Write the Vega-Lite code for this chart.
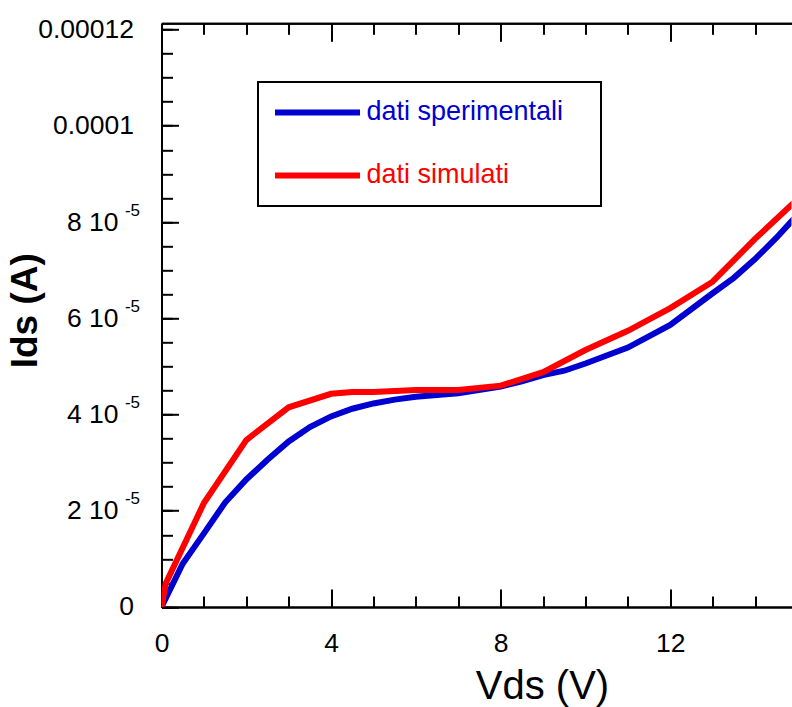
{
  "$schema": "https://vega.github.io/schema/vega-lite/v6.json",
  "autosize": {"type": "none"},
  "padding": {"left": 161.5, "top": 23.3, "right": 0.5, "bottom": 99.7},
  "width": 630,
  "height": 583.7,
  "data": {"values": [
    {"V": 0, "I": 0, "serie": "dati sperimentali"},
    {"V": 0.5, "I": 9.0e-6, "serie": "dati sperimentali"},
    {"V": 1, "I": 15.3e-6, "serie": "dati sperimentali"},
    {"V": 1.5, "I": 21.7e-6, "serie": "dati sperimentali"},
    {"V": 2, "I": 26.5e-6, "serie": "dati sperimentali"},
    {"V": 2.5, "I": 30.6e-6, "serie": "dati sperimentali"},
    {"V": 3, "I": 34.4e-6, "serie": "dati sperimentali"},
    {"V": 3.5, "I": 37.4e-6, "serie": "dati sperimentali"},
    {"V": 4, "I": 39.6e-6, "serie": "dati sperimentali"},
    {"V": 4.5, "I": 41.2e-6, "serie": "dati sperimentali"},
    {"V": 5, "I": 42.3e-6, "serie": "dati sperimentali"},
    {"V": 5.5, "I": 43.1e-6, "serie": "dati sperimentali"},
    {"V": 6, "I": 43.7e-6, "serie": "dati sperimentali"},
    {"V": 7, "I": 44.4e-6, "serie": "dati sperimentali"},
    {"V": 8, "I": 45.8e-6, "serie": "dati sperimentali"},
    {"V": 8.5, "I": 46.9e-6, "serie": "dati sperimentali"},
    {"V": 9, "I": 48.2e-6, "serie": "dati sperimentali"},
    {"V": 9.5, "I": 49.1e-6, "serie": "dati sperimentali"},
    {"V": 10, "I": 50.6e-6, "serie": "dati sperimentali"},
    {"V": 11, "I": 53.9e-6, "serie": "dati sperimentali"},
    {"V": 12, "I": 58.6e-6, "serie": "dati sperimentali"},
    {"V": 13, "I": 65.2e-6, "serie": "dati sperimentali"},
    {"V": 13.5, "I": 68.4e-6, "serie": "dati sperimentali"},
    {"V": 14, "I": 72.3e-6, "serie": "dati sperimentali"},
    {"V": 14.5, "I": 76.7e-6, "serie": "dati sperimentali"},
    {"V": 15, "I": 81.5e-6, "serie": "dati sperimentali"},
    {"V": 0, "I": 0, "serie": "dati simulati"},
    {"V": 0.1, "I": 4.9e-6, "serie": "dati simulati"},
    {"V": 1, "I": 21.6e-6, "serie": "dati simulati"},
    {"V": 2, "I": 34.7e-6, "serie": "dati simulati"},
    {"V": 3, "I": 41.5e-6, "serie": "dati simulati"},
    {"V": 4, "I": 44.3e-6, "serie": "dati simulati"},
    {"V": 4.5, "I": 44.7e-6, "serie": "dati simulati"},
    {"V": 5, "I": 44.7e-6, "serie": "dati simulati"},
    {"V": 6, "I": 45.1e-6, "serie": "dati simulati"},
    {"V": 7, "I": 45.1e-6, "serie": "dati simulati"},
    {"V": 8, "I": 46.0e-6, "serie": "dati simulati"},
    {"V": 9, "I": 48.8e-6, "serie": "dati simulati"},
    {"V": 10, "I": 53.4e-6, "serie": "dati simulati"},
    {"V": 11, "I": 57.4e-6, "serie": "dati simulati"},
    {"V": 12, "I": 62.1e-6, "serie": "dati simulati"},
    {"V": 13, "I": 67.6e-6, "serie": "dati simulati"},
    {"V": 14, "I": 76.5e-6, "serie": "dati simulati"},
    {"V": 15, "I": 84.7e-6, "serie": "dati simulati"}
  ]},
  "resolve": {"axis": {"x": "independent", "y": "independent"}},
  "layer": [
    {
      "mark": {"type": "line", "strokeWidth": 6, "clip": true},
      "encoding": {
        "x": {"field": "V", "type": "quantitative",
          "scale": {"domain": [0, 14.86], "nice": false, "zero": false},
          "axis": {"orient": "bottom", "values": [0, 4, 8, 12], "tickSize": -18, "labelPadding": 42, "labelFontSize": 26.5, "labelBaseline": "top", "labelFlush": false,
            "title": "Vds (V)", "titleFontSize": 40, "titleFontWeight": "normal", "titleX": 380.5, "titleY": 92, "titleAlign": "center", "titleBaseline": "alphabetic"}},
        "y": {"field": "I", "type": "quantitative",
          "scale": {"domain": [0, 0.0001213], "nice": false},
          "axis": {"orient": "left", "values": [0, 0.00002, 0.00004, 0.00006, 0.00008, 0.0001, 0.00012], "tickSize": -17, "labelPadding": 45, "labelFontSize": 26.5, "labelFlush": false,
            "labelExpr": "datum.value === 0 ? '0' : datum.value > 0.00011 ? '0.00012' : datum.value > 0.00009 ? '0.0001' : ''",
            "title": "Ids (A)", "titleFontSize": 37, "titleFontWeight": "bold", "titleAngle": -90, "titleX": -125, "titleY": 287, "titleAlign": "center", "titleBaseline": "alphabetic"}},
        "color": {"field": "serie", "type": "nominal",
          "scale": {"domain": ["dati sperimentali", "dati simulati"], "range": ["#0000d0", "#ff0000"]},
          "legend": {"orient": "none", "legendX": 96.5, "legendY": 58.7, "title": null, "padding": 17,
            "symbolType": "M-5,0H5", "symbolSize": 289, "symbolStrokeWidth": 6, "symbolOffset": 29, "labelFontSize": 27, "labelOffset": 35.5, "labelLimit": 500, "rowPadding": 35,
            "strokeColor": "black",
            "encode": {
              "legend": {"update": {"strokeWidth": {"value": 2}}},
              "labels": {"update": {"fill": {"signal": "datum.value === 'dati simulati' ? '#ff0000' : '#0000d0'"}, "text": {"signal": "datum.label + '\u2800'"}}}
            }}}
      }
    },
    {
      "mark": {"type": "point", "opacity": 0},
      "encoding": {
        "x": {"field": "V", "type": "quantitative", "scale": {"domain": [0, 14.86], "nice": false, "zero": false},
          "axis": {"orient": "bottom", "values": [0, 1, 2, 3, 4, 5, 6, 7, 8, 9, 10, 11, 12, 13, 14], "tickSize": -11, "labels": false, "title": null}},
        "y": {"field": "I", "type": "quantitative", "scale": {"domain": [0, 0.0001213], "nice": false},
          "axis": {"orient": "left", "values": [0.00002, 0.00004, 0.00006, 0.00008], "ticks": false, "domain": false, "labelPadding": 22, "labelFontSize": 17, "labelOffset": -12, "labelExpr": "'-5'", "title": null}}
      }
    },
    {
      "mark": {"type": "point", "opacity": 0},
      "encoding": {
        "x": {"field": "V", "type": "quantitative", "scale": {"domain": [0, 14.86], "nice": false, "zero": false},
          "axis": {"orient": "top", "values": [0, 4, 8, 12], "tickSize": -18, "labels": false, "title": null}},
        "y": {"field": "I", "type": "quantitative", "scale": {"domain": [0, 0.0001213], "nice": false},
          "axis": {"orient": "left", "values": [0, 0.000005, 0.00001, 0.000015, 0.00002, 0.000025, 0.00003, 0.000035, 0.00004, 0.000045, 0.00005, 0.000055, 0.00006, 0.000065, 0.00007, 0.000075, 0.00008, 0.000085, 0.00009, 0.000095, 0.0001, 0.000105, 0.00011, 0.000115, 0.00012], "tickSize": -11, "labels": false, "title": null}}
      }
    },
    {
      "mark": {"type": "point", "opacity": 0},
      "encoding": {
        "x": {"field": "V", "type": "quantitative", "scale": {"domain": [0, 14.86], "nice": false, "zero": false},
          "axis": {"orient": "top", "values": [0, 1, 2, 3, 4, 5, 6, 7, 8, 9, 10, 11, 12, 13, 14], "tickSize": -11, "labels": false, "title": null}},
        "y": {"field": "I", "type": "quantitative", "scale": {"domain": [0, 0.0001213], "nice": false},
          "axis": {"orient": "left", "values": [0.00002, 0.00004, 0.00006, 0.00008], "ticks": false, "domain": false, "labelPadding": 43.5, "labelFontSize": 26.5, "labelExpr": "round(datum.value * 100000) + ' 10'", "title": null}}
      }
    }
  ],
  "config": {
    "font": "Liberation Sans",
    "view": {"stroke": null},
    "axis": {"grid": false, "domainColor": "black", "domainWidth": 2, "tickColor": "black", "tickWidth": 2, "labelColor": "black", "titleColor": "black", "labelFont": "Liberation Sans", "titleFont": "Liberation Sans"},
    "legend": {"labelFont": "Liberation Sans"}
  }
}
